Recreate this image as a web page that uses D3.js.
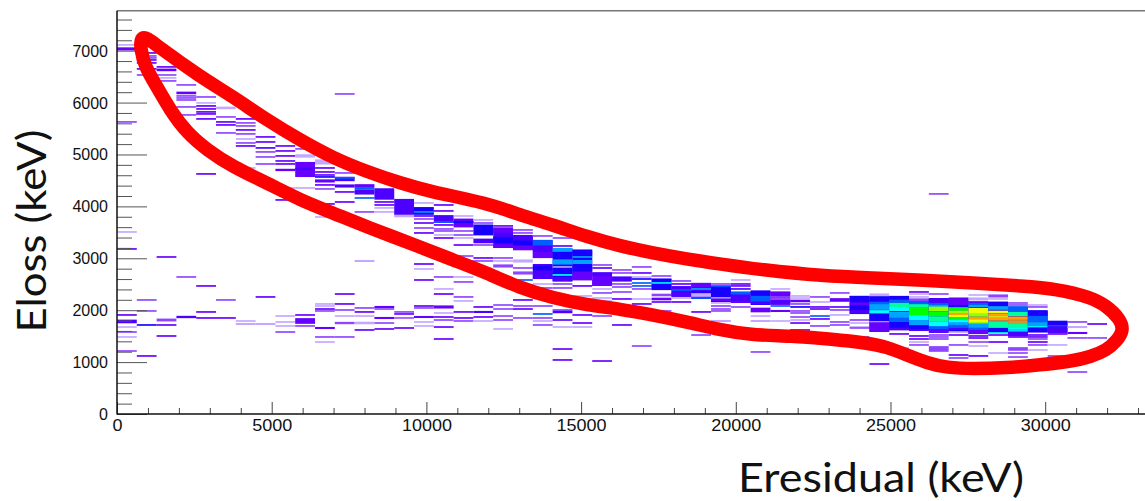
<!DOCTYPE html>
<html><head><meta charset="utf-8">
<script src="https://cdn.jsdelivr.net/npm/d3@7/dist/d3.min.js"></script>
<style>html,body{margin:0;padding:0;background:#fff;overflow:hidden}svg{display:block}</style>
</head><body><svg id="c" width="1145" height="501"></svg>
<script>
// Each cell: [Eloss keV, colour level, optional height in keV]
const binWidth = 640, lineHeight = 32;
const c00=[[7111,1],[7034,3,60],[5627,2],[3507,1],[3180,3],[1908,3],[1783,4,70],[1676,1],[1580,2],[1484,1],[1214,2]];
const c01=[[6956,3],[6898,2],[6860,2],[6821,3],[6764,3],[6648,3],[6532,2],[2197,2],[1985,2],[1715,5],[1118,3]];
const c02=[[6687,3],[6629,3,50],[6532,2],[6475,1],[6417,2],[3025,3],[1811,2,55],[1715,3],[1503,3]];
const c03=[[6340,2],[6186,3,50],[6128,2],[6089,2],[6050,2],[5916,2],[5762,2],[2640,2],[1869,4,45]];
const c04=[[6108,2],[5993,1],[5935,3],[5877,3],[5820,3],[5781,3],[5685,3],[4625,3],[2467,3],[1966,3],[1850,3]];
const c05=[[5897,1,50],[5723,2],[5627,3],[5569,3],[5415,2],[2197,2],[1850,3]];
const c06=[[5685,3],[5608,2],[5550,2],[5473,3],[5396,2],[5299,1],[5222,2],[5164,3],[4740,1],[1792,1],[1734,1,40]];
const c07=[[5338,3],[5241,3],[5126,4],[5049,2],[4952,2],[4817,2],[2255,3],[1734,1,40]];
const c08=[[5164,3],[5068,3],[4972,3],[4875,3],[4817,3],[4702,3,45],[4355,1],[4124,3],[1888,1],[1773,1],[1696,1],[1580,2]];
const c09=[[5107,2],[4972,1,65],[4711,3,290],[4720,4,40],[4355,1],[1908,3],[1792,3,110],[1696,2]];
const c10=[[4856,1,100],[4740,3],[4663,3],[4605,3],[4567,5],[4490,3,60],[4413,3],[4336,2],[4047,3],[3796,1],[2120,1],[2081,1],[2023,3],[1985,2],[1657,3,40],[1484,2],[1387,1]];
const c11=[[6166,2],[4644,2],[4528,4,85],[4548,6],[4393,4,60],[4278,3],[4085,3],[2312,3],[2120,3],[2004,2],[1888,1],[1753,2,45],[1484,2]];
const c12=[[4393,3,70],[4345,6],[4278,4,100],[4162,6],[3893,2],[2948,1,40],[2043,2],[1966,3],[1888,1],[1753,1,50],[1619,3]];
const c13=[[4239,4,220],[4085,3],[4027,3],[3970,1],[3893,1],[2062,3,40],[2023,2],[1850,3,40],[1753,2],[1638,3]];
const c14=[[3989,4,310],[3815,1,50],[3372,3],[1966,2],[1927,3],[1850,2,30],[1657,3]];
const c15=[[4066,1],[3912,5,150],[3893,7,30],[3815,3],[3757,2],[3680,3],[3584,2],[3488,3],[2890,3],[2794,1],[2582,3],[2081,3],[2043,2],[1869,3,40],[1773,1],[1696,1]];
const c16=[[4027,3],[3912,3],[3757,4,150],[3700,6],[3642,3],[3565,2],[3526,2],[3449,1],[3391,3],[2640,2],[2409,1],[2312,3],[2062,3,60],[1946,1],[1869,3],[1811,2],[1676,3],[1445,3]];
const c17=[[3815,1],[3680,3,170],[3700,5,40],[3526,2],[3449,2],[3391,1],[3256,3],[3044,2],[2948,2],[2640,1],[2544,2],[2255,2],[2178,1],[1966,3],[1850,3],[1792,2]];
const c18=[[3738,1],[3680,2],[3546,5,210],[3334,4,90],[3256,2],[3006,3],[2948,2],[2756,1,30],[2062,3],[1966,4,40],[1869,3],[1792,1]];
const c19=[[3391,4,385],[3623,3],[3546,3,100],[3353,5,120],[3237,3,60],[3006,2],[2948,1],[2852,2,60],[2100,2],[2023,2],[1888,2],[1811,2],[1638,1]];
const c20=[[3305,4,290],[3546,2],[3488,2],[3391,4,60],[3295,5,100],[3199,3,90],[2948,1,60],[2813,2],[2717,2,60],[2582,6],[2486,2],[2197,3],[2081,2],[2023,3],[1850,2]];
const c21=[[3180,4,350],[2745,4,290],[3430,2],[3295,6,110],[3180,4,130],[3064,3,120],[2813,5,90],[2679,4,150],[2505,1],[2428,2],[2081,2],[1927,6],[1850,2],[1792,1],[1715,2]];
const c22=[[2871,5,640],[3391,2],[3237,3],[3160,7,80],[3064,5,120],[2929,7,100],[2833,1,30],[2736,5,80],[2679,8],[2601,4,80],[2505,2],[2428,2],[2004,2],[1966,4,50],[1811,3],[1676,1],[1252,3],[1041,3]];
const c23=[[2880,5,580],[3102,5,100],[3025,7],[2929,7,80],[2813,5,130],[2659,3,170],[2467,3],[2274,1],[1908,3],[1753,3],[1676,1]];
const c24=[[2592,3,250],[2871,2],[2813,3],[2698,4,70],[2524,3,110],[2409,1],[2332,2],[2235,1],[2178,1],[1888,2],[1021,3]];
const c25=[[2775,2],[2717,2],[2601,4,100],[2505,2],[2447,2],[2351,2],[2216,3],[1715,3]];
const c26=[[2833,2],[2717,3],[2640,1],[2601,5],[2524,6],[2467,6],[2409,2],[2216,1],[2120,3],[1310,2]];
const c27=[[2495,5,210],[2659,2],[2582,5,60],[2524,8],[2447,5,120],[2293,2,50],[2216,3,50],[2158,3],[1985,2]];
const c28=[[2360,4,210],[2563,2],[2505,3],[2409,4,60],[2389,6],[2312,4,90],[2235,1],[2158,3]];
const c29=[[2370,4,310],[2486,3,80],[2409,7],[2351,5],[2293,1,70],[2235,6],[1966,3],[1522,2]];
const c30=[[2312,5,310],[2505,2],[2467,6],[2351,5,150],[2235,1],[2197,3,50],[2139,1],[2081,2],[2023,2],[1985,2],[1792,1,40]];
const c31=[[2245,4,210],[2582,1],[2505,3],[2467,3],[2409,4],[2332,6,60],[2216,4,110],[2158,3],[2062,2]];
const c32=[[2235,5,270],[2332,5,100],[2216,6,120],[2139,4,60],[2004,3,90],[1888,1],[1792,1,40],[1619,3],[1195,2]];
const c33=[[2226,3,250],[2409,1],[2332,3,60],[2255,2],[2216,2,40],[2158,4,60],[2081,6],[1985,3,40],[1792,1]];
const c34=[[2274,1],[2235,1],[2178,3,50],[2120,2],[2062,5],[1985,2],[1946,2],[1869,2],[1811,1],[1753,3],[1619,3]];
const c35=[[2255,2],[2158,1],[2062,3],[2023,3],[1888,6],[1831,3],[1696,2]];
const c36=[[2332,2],[2197,3,70],[2062,3],[2004,2],[1908,1],[1773,2],[1715,2]];
const c37=[[2100,5,350],[2216,5,120],[2120,3,60],[2043,5,100],[1966,4,70],[1811,2],[1753,1],[1676,1],[1657,2],[1484,2]];
const c38=[[1927,5,690],[2293,1,60],[2216,5,100],[2139,6,50],[2062,7,110],[1966,8,70],[1850,5,170],[1773,1],[1676,3,180],[963,3]];
const c39=[[1946,5,660],[2235,5,70],[2178,6,50],[2100,9,90],[2023,8,80],[1908,7,120],[1811,6,90],[1715,5,110],[1638,4,50],[1542,3],[1272,1]];
const c40=[[1917,5,600],[2351,3],[2312,1],[2255,1],[2197,2,60],[2139,6,60],[2081,9,70],[1966,10,160],[1850,8,100],[1753,7,100],[1676,5,70],[1619,4,40],[1503,3],[1445,3],[1387,1],[1330,2]];
const c41=[[1898,5,670],[4240,2],[2312,2],[2178,4,110],[2120,6,40],[2081,7,40],[2023,11,90],[1927,10,100],[1831,9,100],[1734,8,100],[1657,6,60],[1599,3,60],[1522,2],[1484,2],[1445,2],[1253,2,110]];
const c42=[[1908,5,660],[2158,3,170],[2081,5,40],[2023,10,70],[1966,11,50],[1927,13,40],[1888,12,40],[1850,10,40],[1792,8,70],[1734,7,60],[1676,6,60],[1638,4,40],[1580,1],[1522,3],[1330,2],[1137,3],[1079,2]];
const c43=[[1850,5,620],[2293,1],[2216,1,60],[2158,3],[2120,6,40],[2081,7,40],[1985,12,120],[1908,11,70],[1850,13,40],[1792,12,70],[1753,11,30],[1696,7,80],[1638,6,50],[1580,3,80],[1503,3],[1464,3],[1387,2],[1310,1],[1118,3]];
const c44=[[1860,5,600],[2274,2,60],[2216,1],[2120,5,90],[2043,7,70],[1966,12,50],[1908,13,60],[1869,12,30],[1831,13,50],[1792,14,30],[1715,9,130],[1619,5,80],[1561,8],[1522,3],[1387,3],[1175,1]];
const c45=[[1783,5,560],[2139,2],[2100,2],[2023,6,110],[1927,9,80],[1850,13,60],[1811,13,30],[1773,14,50],[1696,9,110],[1638,8],[1599,8],[1542,4,90],[1484,3],[1253,2,70],[1175,2],[1098,2]];
const c46=[[1783,5,400],[2100,1],[2062,2],[1946,5,110],[1831,6,120],[1715,7,110],[1676,8],[1619,5,100],[1522,3],[1484,3],[1445,2],[1387,3],[1330,2],[1233,1],[1041,2]];
const c47=[[1676,4,230],[1753,5,90],[1696,6,30],[1638,4,100],[1542,3],[1330,1],[1118,2]];
const c48=[[1773,2],[1676,1,40],[1561,3,40],[1465,2],[809,2]];
const c49=[[1734,3],[1465,2]];
const columns=[c00,c01,c02,c03,c04,c05,c06,c07,c08,c09,c10,c11,c12,c13,c14,c15,c16,c17,c18,c19,c20,c21,c22,c23,c24,c25,c26,c27,c28,c29,c30,c31,c32,c33,c34,c35,c36,c37,c38,c39,c40,c41,c42,c43,c44,c45,c46,c47,c48,c49];

const levelColours=["#c4a8ff","#8f45ff","#6600ff","#4c00ff","#1800ff","#0060ff","#00a4ff","#00ffff","#00ffa0","#00ff00","#90ff00","#f0ff00","#ffa000","#cf9a30"];

// Hand-drawn red loop, in data units
const loopE=[980,1300,2683,3749,4838,5915,6981,8070,9147,10116,11949,13025,14092,15181,16257,17324,18413,19489,20800,22818,24434,26050,27666,29283,30381,31448,32000,32420,32540,32300,31997,31448,30899,29832,28765,27666,26826,26180,25533,24887,24240,23141,21752,20459,19489,18423,17324,16257,15191,14092,13025,11959,10860,9793,8080,6981,5915,4848,3749,2909,2262,1713,1293,905,760,760];
const loopL=[7250,7091,6500,6114,5665,5280,4933,4669,4451,4284,4066,3835,3642,3417,3237,3102,2987,2890,2780,2659,2621,2582,2524,2467,2409,2255,2080,1830,1610,1400,1233,1098,1021,944,890,870,890,983,1137,1291,1368,1445,1503,1522,1619,1773,1908,2023,2100,2235,2428,2717,2968,3218,3603,3873,4124,4451,4760,5087,5415,5858,6301,6687,7030,7260];

const xMajor=[0,5000,10000,15000,20000,25000,30000];
const yMajor=[0,1000,2000,3000,4000,5000,6000,7000];
const xMinor=d3.range(0,33001,1000).filter(v=>v%5000);
const yMinor=d3.range(0,7601,200).filter(v=>v%1000);

const svg=d3.select("#c");
const x=d3.scaleLinear().domain([0,33226]).range([117,1145]);
const y=d3.scaleLinear().domain([0,7770]).range([414,10.7]);
const colour=d3.scaleOrdinal().domain(d3.range(1,15)).range(levelColours);
const plain=d3.format("d");

svg.append("line").attr("x1",x(0)).attr("x2",x(33226)).attr("y1",y(7770)).attr("y2",y(7770)).attr("stroke","#777").attr("stroke-width",1.6);

svg.append("g").selectAll("g").data(columns).join("g").each(function(col,i){
  d3.select(this).selectAll("rect").data(col).join("rect")
    .attr("x",x(i*binWidth)).attr("width",x((i+1)*binWidth)-x(i*binWidth))
    .attr("y",d=>y(d[0]+(d[2]||lineHeight)/2))
    .attr("height",d=>y(0)-y(d[2]||lineHeight))
    .attr("fill",d=>colour(d[1]));
});

function style(g,col){g.selectAll("line").attr("stroke",col).attr("stroke-width",1);g.select(".domain").remove();}
svg.append("g").attr("transform","translate(117,0)").call(d3.axisLeft(y).tickValues(yMinor).tickSize(-15).tickFormat("")).call(style,"#555");
const ym=svg.append("g").attr("transform","translate(117,0)").call(d3.axisLeft(y).tickValues(yMajor).tickSize(-30).tickPadding(9).tickFormat(plain)).call(style,"#555");
ym.selectAll("text").attr("font-family","Liberation Sans").attr("font-size",16).attr("fill","#111").attr("dy","0.34em");
svg.append("g").attr("transform","translate(0,414)").call(d3.axisBottom(x).tickValues(xMinor).tickSize(-6).tickFormat("")).call(style,"#444");
const xm=svg.append("g").attr("transform","translate(0,414)").call(d3.axisBottom(x).tickValues(xMajor).tickSize(-12).tickPadding(6).tickFormat(plain)).call(style,"#444");
xm.selectAll("text").attr("font-family","Liberation Sans").attr("font-size",16).attr("fill","#111").attr("textLength",function(d){return String(d).length*10;}).attr("lengthAdjust","spacingAndGlyphs");
svg.append("line").attr("x1",117).attr("x2",117).attr("y1",y(7770)).attr("y2",414.5).attr("stroke","#111").attr("stroke-width",1.5);
svg.append("line").attr("x1",117).attr("x2",1145).attr("y1",414).attr("y2",414).attr("stroke","#111").attr("stroke-width",1.5);

const line=d3.line().x(d=>x(d[0])).y(d=>y(d[1])).curve(d3.curveBasisClosed);
svg.append("path").attr("d",line(loopE.map((e,i)=>[e,loopL[i]]))).attr("fill","none").attr("stroke","#ff0000").attr("stroke-width",13.5).attr("stroke-linejoin","round");

svg.append("text").attr("x",881).attr("y",492).attr("text-anchor","middle").attr("font-family","Lato").attr("font-size",40).attr("fill","#111").attr("textLength",286).attr("lengthAdjust","spacingAndGlyphs").text("Eresidual (keV)");
svg.append("text").attr("transform","translate(46,231) rotate(-90)").attr("text-anchor","middle").attr("font-family","Lato").attr("font-size",41).attr("fill","#111").attr("textLength",203).attr("lengthAdjust","spacingAndGlyphs").text("Eloss (keV)");
</script></body></html>
